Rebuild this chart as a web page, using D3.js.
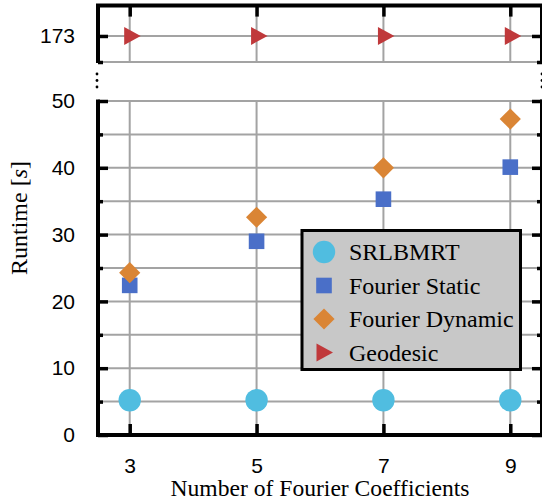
<!DOCTYPE html>
<html>
<head>
<meta charset="utf-8">
<script src="https://cdn.jsdelivr.net/npm/d3@7"></script>
<style>
  html, body { margin: 0; padding: 0; background: #fff; }
  svg { display: block; }
  .tick text { font-family: "Liberation Sans", Arial, sans-serif; font-size: 21px; fill: #000; }
  .serif { font-family: "Liberation Serif", "Times New Roman", serif; }
</style>
</head>
<body>
<svg id="chart" width="542" height="501"></svg>
<script>
// Runtime per method vs. number of Fourier coefficients
const coefficients = [3, 5, 7, 9];
const srlbmrt = [5.2, 5.2, 5.2, 5.2];
const fourierStatic = [22.4, 29.0, 35.3, 40.1];
const fourierDynamic = [24.3, 32.6, 40.0, 47.3];
const geodesic = [173, 173, 173, 173];

const lowerMajorTicks = [0, 10, 20, 30, 40, 50];
const lowerMinorTicks = [5, 15, 25, 35, 45];
const upperMajorTicks = [173];
const upperMinorTicks = [170];

const seriesNames = ["SRLBMRT", "Fourier Static", "Fourier Dynamic", "Geodesic"];
const colors = {
  circle: "#50bde0",
  square: "#4a6fc8",
  diamond: "#da8535",
  triangle: "#c0393b"
};

const svg = d3.select("#chart");
const gridColor = "#a3a3a3";
const intFmt = d3.format("d");

// Scales: one x scale, a broken y axis (upper panel for the slow method)
const x = d3.scaleLinear().domain([2.5, 9.5]).range([98, 542]);
const yLow = d3.scaleLinear().domain([0, 50]).range([435, 101]);
const yTop = d3.scaleLinear().domain([170, 176.5]).range([62, 5.6]);

const xL = x.range()[0], xR = x.range()[1];

// --- grid ---
const grid = svg.append("g");
coefficients.forEach(c => {
  grid.append("line").attr("x1", x(c)).attr("x2", x(c))
    .attr("y1", yTop.range()[1]).attr("y2", yTop.range()[0])
    .attr("stroke", gridColor).attr("stroke-width", 2);
  grid.append("line").attr("x1", x(c)).attr("x2", x(c))
    .attr("y1", yLow(50)).attr("y2", yLow(0))
    .attr("stroke", gridColor).attr("stroke-width", 2);
});
lowerMajorTicks.concat(lowerMinorTicks).filter(v => v > 0).forEach(v => {
  grid.append("line").attr("x1", xL).attr("x2", xR)
    .attr("y1", yLow(v)).attr("y2", yLow(v))
    .attr("stroke", gridColor).attr("stroke-width", 2);
});
upperMajorTicks.concat(upperMinorTicks).forEach(v => {
  grid.append("line").attr("x1", xL).attr("x2", xR)
    .attr("y1", yTop(v)).attr("y2", yTop(v))
    .attr("stroke", gridColor).attr("stroke-width", 2);
});

// --- markers ---
const marks = svg.append("g");
marks.selectAll("circle.srl").data(coefficients).join("circle")
  .attr("cx", d => x(d)).attr("cy", (d, i) => yLow(srlbmrt[i]))
  .attr("r", 11.2).attr("fill", colors.circle);

const sq = 15.6;
marks.selectAll("rect.fs").data(coefficients).join("rect")
  .attr("x", d => x(d) - sq / 2).attr("y", (d, i) => yLow(fourierStatic[i]) - sq / 2)
  .attr("width", sq).attr("height", sq).attr("fill", colors.square);

const diamondPath = r => `M0,${-r}L${r},0L0,${r}L${-r},0Z`;
marks.selectAll("path.fd").data(coefficients).join("path")
  .attr("transform", (d, i) => `translate(${x(d)},${yLow(fourierDynamic[i])})`)
  .attr("d", diamondPath(10.6)).attr("fill", colors.diamond);

const trianglePath = (w, h) => `M${-w / 3},${-h / 2}L${2 * w / 3},0L${-w / 3},${h / 2}Z`;
marks.selectAll("path.geo").data(coefficients).join("path")
  .attr("transform", (d, i) => `translate(${x(d)},${yTop(geodesic[i])})`)
  .attr("d", trianglePath(16.5, 18)).attr("fill", colors.triangle);

// --- axes (ticks point inward) ---
const axisStroke = 3.5;
function styleAxis(g) {
  g.select(".domain").remove();
  g.selectAll(".tick line").attr("stroke", "#000").attr("stroke-width", axisStroke);
}

// lower panel, left
svg.append("g").attr("transform", `translate(${xL},0)`)
  .call(d3.axisLeft(yLow).tickValues(lowerMajorTicks).tickFormat(intFmt).tickSizeInner(-10).tickSizeOuter(0).tickPadding(23))
  .call(styleAxis);
svg.append("g").attr("transform", `translate(${xL},0)`)
  .call(d3.axisLeft(yLow).tickValues(lowerMinorTicks).tickSizeInner(-5).tickSizeOuter(0).tickFormat(""))
  .call(styleAxis);
// lower panel, right
svg.append("g").attr("transform", `translate(${xR},0)`)
  .call(d3.axisRight(yLow).tickValues(lowerMajorTicks).tickSizeInner(-10).tickSizeOuter(0).tickFormat(""))
  .call(styleAxis);
svg.append("g").attr("transform", `translate(${xR},0)`)
  .call(d3.axisRight(yLow).tickValues(lowerMinorTicks).tickSizeInner(-5).tickSizeOuter(0).tickFormat(""))
  .call(styleAxis);
// upper panel, left and right
svg.append("g").attr("transform", `translate(${xL},0)`)
  .call(d3.axisLeft(yTop).tickValues(upperMajorTicks).tickFormat(intFmt).tickSizeInner(-10).tickSizeOuter(0).tickPadding(23))
  .call(styleAxis);
svg.append("g").attr("transform", `translate(${xL},0)`)
  .call(d3.axisLeft(yTop).tickValues(upperMinorTicks).tickSizeInner(-5).tickSizeOuter(0).tickFormat(""))
  .call(styleAxis);
svg.append("g").attr("transform", `translate(${xR},0)`)
  .call(d3.axisRight(yTop).tickValues(upperMajorTicks).tickSizeInner(-10).tickSizeOuter(0).tickFormat(""))
  .call(styleAxis);
svg.append("g").attr("transform", `translate(${xR},0)`)
  .call(d3.axisRight(yTop).tickValues(upperMinorTicks).tickSizeInner(-5).tickSizeOuter(0).tickFormat(""))
  .call(styleAxis);
// bottom x axis and top ticks
svg.append("g").attr("transform", `translate(0,${yLow(0)})`)
  .call(d3.axisBottom(x).tickValues(coefficients).tickFormat(intFmt).tickSizeInner(-11).tickSizeOuter(0).tickPadding(23))
  .call(styleAxis);
svg.append("g").attr("transform", `translate(0,${yTop.range()[1]})`)
  .call(d3.axisTop(x).tickValues(coefficients).tickSizeInner(-11).tickSizeOuter(0).tickFormat(""))
  .call(styleAxis);

// --- frame lines ---
const frame = svg.append("g").attr("stroke", "#000").attr("stroke-width", 4).attr("fill", "none");
// upper panel: left, top, right
frame.append("path").attr("d",
  `M${xL},${yTop(170) + 1}V${yTop.range()[1]}H${xR}V${yTop(170) + 1}`);
// lower panel: left, bottom, right
frame.append("path").attr("d",
  `M${xL},${yLow(50) - 1.5}V${yLow(0)}H${xR}V${yLow(50) - 1.5}`);

// axis break markers
[xL - 1, xR].forEach(px => {
  [74, 80.5, 87].forEach(py => {
    svg.append("circle").attr("cx", px).attr("cy", py).attr("r", 1.4).attr("fill", "#000");
  });
});

// --- axis titles ---
svg.append("text").attr("class", "serif")
  .attr("x", (xL + xR) / 2).attr("y", 496)
  .attr("text-anchor", "middle").attr("font-size", 23.6)
  .text("Number of Fourier Coefficients");

const ylab = svg.append("text").attr("class", "serif")
  .attr("transform", "translate(27,218) rotate(-90)")
  .attr("text-anchor", "middle").attr("font-size", 24);
ylab.append("tspan").text("Runtime [");
ylab.append("tspan").attr("font-style", "italic").text("s");
ylab.append("tspan").text("]");

// --- legend ---
const legend = svg.append("g");
legend.append("rect").attr("x", 302).attr("y", 230.5).attr("width", 218.5).attr("height", 139)
  .attr("fill", "#c8c8c8").attr("stroke", "#000").attr("stroke-width", 3);
const rowY = [252, 285.5, 319, 352.5];
const symX = 324;
legend.append("circle").attr("cx", symX).attr("cy", rowY[0]).attr("r", 11.2).attr("fill", colors.circle);
legend.append("rect").attr("x", symX - sq / 2).attr("y", rowY[1] - sq / 2)
  .attr("width", sq).attr("height", sq).attr("fill", colors.square);
legend.append("path").attr("transform", `translate(${symX},${rowY[2]})`)
  .attr("d", diamondPath(10.6)).attr("fill", colors.diamond);
legend.append("path").attr("transform", `translate(${symX - 2},${rowY[3]})`)
  .attr("d", trianglePath(16.5, 18)).attr("fill", colors.triangle);
seriesNames.forEach((name, i) => {
  legend.append("text").attr("class", "serif")
    .attr("x", 349).attr("y", rowY[i]).attr("dy", "0.35em")
    .attr("font-size", 24).text(name);
});
</script>
</body>
</html>
